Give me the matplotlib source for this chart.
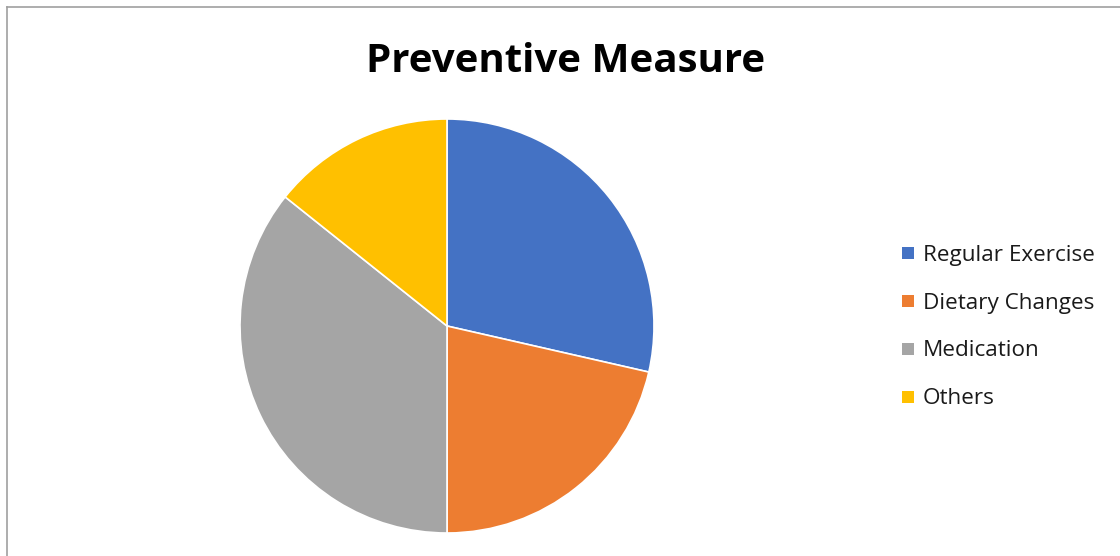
import matplotlib
matplotlib.use("Agg")
import matplotlib.pyplot as plt
from matplotlib.patches import Rectangle
from matplotlib.lines import Line2D

labels = ["Regular Exercise", "Dietary Changes", "Medication", "Others"]
values = [40, 30, 50, 20]
colors = ["#4472C4", "#ED7D31", "#A5A5A5", "#FFC000"]
title = "Preventive Measure"

W, H = 1120, 556
fig = plt.figure(figsize=(W / 100, H / 100), dpi=100)
fig.patch.set_facecolor("white")

# outer chart frame (top and left edges visible)
fig.add_artist(Line2D([7 / W, 1], [1 - 7 / H, 1 - 7 / H], color="#A0A0A0", lw=1.2))
fig.add_artist(Line2D([7 / W, 7 / W], [0, 1 - 7 / H], color="#A0A0A0", lw=1.2))

# pie axes
cx, cy, r = 447, 326, 207
ax = fig.add_axes([(cx - r) / W, (H - cy - r) / H, 2 * r / W, 2 * r / H])
ax.pie(values, colors=colors, startangle=90, counterclock=False, radius=1,
       wedgeprops=dict(edgecolor="white", linewidth=1.2))
ax.set_xlim(-1.0, 1.0)
ax.set_ylim(-1.0, 1.0)
ax.set_aspect("equal")
ax.axis("off")

fig.text(566 / W, 1 - 62 / H, title, ha="center", va="center",
         fontsize=29, fontweight="bold", family=["Open Sans", "DejaVu Sans"])

# legend entries
ys = [253, 301, 349, 397]
for lab, col, y in zip(labels, colors, ys):
    fig.add_artist(Rectangle((902 / W, 1 - (y + 6) / H), 12 / W, 12 / H,
                             facecolor=col, edgecolor="none", transform=fig.transFigure))
    fig.text(923 / W, 1 - (y + 2) / H, lab, ha="left", va="center", fontsize=16.2,
             color="#1a1a1a", family=["Open Sans", "DejaVu Sans"])

fig.savefig("out.png", dpi=100, facecolor="white")
